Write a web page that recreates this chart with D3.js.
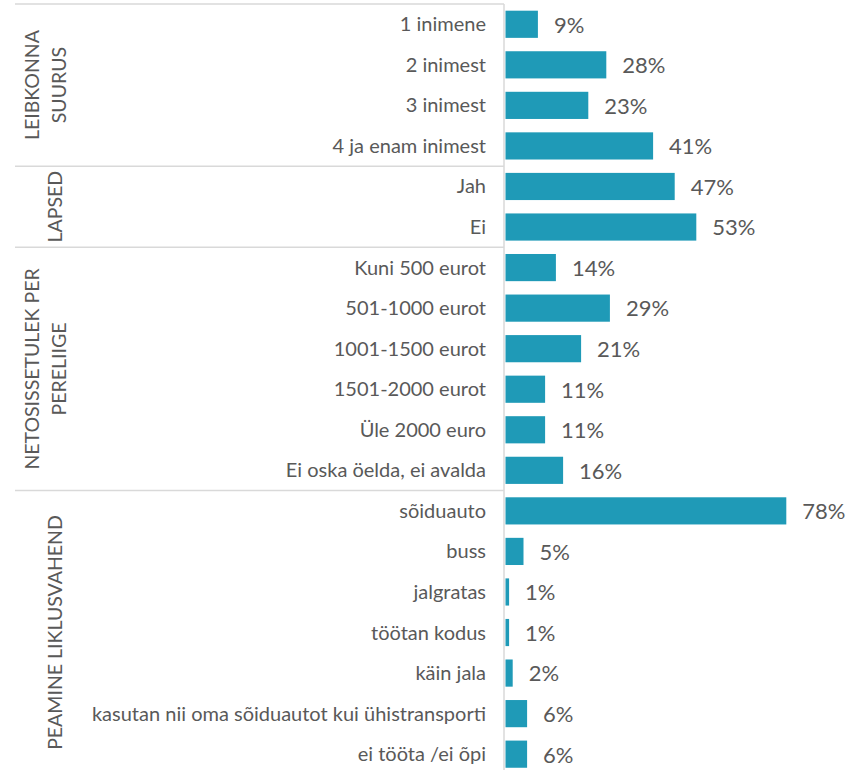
<!DOCTYPE html>
<html>
<head>
<meta charset="utf-8">
<script src="https://cdn.jsdelivr.net/npm/d3@7"></script>
<style>
  body { margin: 0; background: #fff; }
  text { font-family: Lato, "Open Sans", sans-serif; fill: #595959; }
</style>
</head>
<body>
<svg id="chart"></svg>
<script>
var svg_width = 861, svg_height = 770;

// categories per group, in drawing order
var groups = [
  { name: ["LEIBKONNA", "SUURUS"], n: 4 },
  { name: ["LAPSED"], n: 2 },
  { name: ["NETOSISSETULEK PER", "PERELIIGE"], n: 6 },
  { name: ["PEAMINE LIKLUSVAHEND"], n: 7 }
];
var categories = [
  "1 inimene", "2 inimest", "3 inimest", "4 ja enam inimest",
  "Jah", "Ei",
  "Kuni 500 eurot", "501-1000 eurot", "1001-1500 eurot", "1501-2000 eurot", "Üle 2000 euro", "Ei oska öelda, ei avalda",
  "sõiduauto", "buss", "jalgratas", "töötan kodus", "käin jala", "kasutan nii oma sõiduautot kui ühistransporti", "ei tööta /ei õpi"
];
var values = [9, 28, 23, 41, 47, 53, 14, 29, 21, 11, 11, 16, 78, 5, 1, 1, 2, 6, 6];

var axisX = 504, rowH = 40.55, topY = 4;

var svg = d3.select("#chart")
  .attr("width", svg_width)
  .attr("height", svg_height);

var y = d3.scaleBand()
  .domain(categories)
  .range([topY, topY + rowH * categories.length])
  .paddingInner(0.33)
  .paddingOuter(0.165);

var x = d3.scaleLinear()
  .domain([0, 100])
  .range([axisX + 1.5, axisX + 1.5 + 360]);

// group separators
var start = 0;
var bounds = [topY];
groups.forEach(function (g) {
  start += g.n;
  bounds.push(topY + rowH * start);
});

svg.selectAll(".sep")
  .data(bounds.slice(0, -1))
  .enter().append("line")
  .attr("class", "sep")
  .attr("x1", 15).attr("x2", axisX)
  .attr("y1", function (d) { return d; })
  .attr("y2", function (d) { return d; })
  .attr("stroke", "#d9d9d9")
  .attr("stroke-width", 1.5);

svg.append("line")
  .attr("x1", axisX).attr("x2", axisX)
  .attr("y1", topY).attr("y2", svg_height)
  .attr("stroke", "#d9d9d9")
  .attr("stroke-width", 1.5);

// group labels, rotated
groups.forEach(function (g, i) {
  var cy = (bounds[i] + bounds[i + 1]) / 2;
  var xs = g.name.length === 2 ? [32, 59] : [55];
  g.name.forEach(function (line, j) {
    svg.append("text")
      .attr("transform", "translate(" + xs[j] + "," + cy + ") rotate(-90)")
      .attr("text-anchor", "middle")
      .attr("dy", "0.35em")
      .style("font-size", "19.5px")
      .text(line);
  });
});

// category labels
svg.selectAll(".cat")
  .data(categories)
  .enter().append("text")
  .attr("class", "cat")
  .attr("x", 486)
  .attr("y", function (d) { return y(d) + y.bandwidth() / 2; })
  .attr("dy", "0.35em")
  .attr("text-anchor", "end")
  .style("font-size", "20px")
  .text(function (d) { return d; });

// bars
svg.selectAll(".bar")
  .data(values)
  .enter().append("rect")
  .attr("class", "bar")
  .attr("x", x(0))
  .attr("y", function (d, i) { return y(categories[i]); })
  .attr("width", function (d) { return x(d) - x(0); })
  .attr("height", y.bandwidth())
  .attr("fill", "#1f9ab7");

// value labels
svg.selectAll(".val")
  .data(values)
  .enter().append("text")
  .attr("class", "val")
  .attr("x", function (d) { return x(d) + 16; })
  .attr("y", function (d, i) { return y(categories[i]) + y.bandwidth() / 2; })
  .attr("dy", "0.38em")
  .style("font-size", "22px")
  .text(function (d) { return d + "%"; });
</script>
</body>
</html>
